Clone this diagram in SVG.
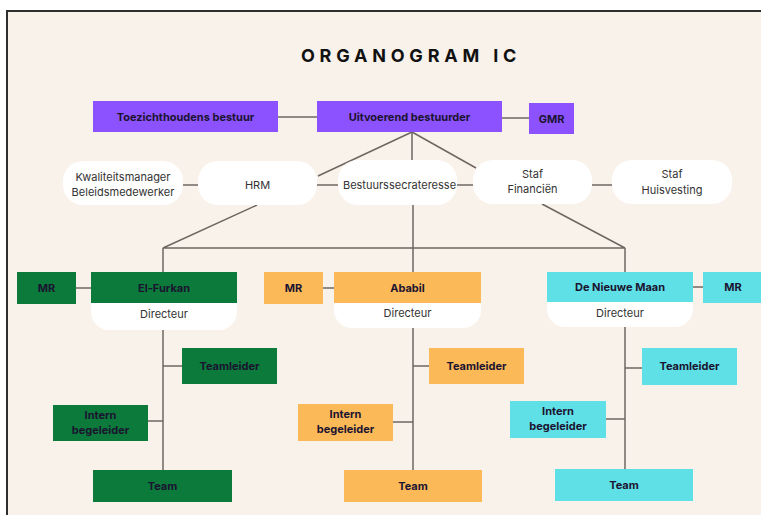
<svg xmlns="http://www.w3.org/2000/svg" width="761" height="515" viewBox="0 0 761 515">
<style>
.bg{fill:#f9f2ea}
.frame{fill:none;stroke:#2e2e2e;stroke-width:2}
.p{fill:#8c52ff}
.g{fill:#0b7a3a}
.o{fill:#fbb958}
.c{fill:#5fe0e6}
.w{fill:#ffffff}
.ln{stroke:#6e6660;stroke-width:1.5;fill:none}
.b{font-family:Inter,"Liberation Sans",sans-serif;font-weight:700;font-size:11px;fill:#1b1430;text-anchor:middle}
.r{font-family:Inter,"Liberation Sans",sans-serif;font-weight:400;font-size:11px;fill:#333333;text-anchor:middle}
.t{font-family:Inter,"Liberation Sans",sans-serif;font-weight:700;font-size:18px;fill:#111111;text-anchor:middle;letter-spacing:4.8px}
</style>
<rect width="761" height="515" fill="#ffffff"/>
<rect class="bg" x="7" y="11" width="790" height="520"/>
<rect class="frame" x="7" y="11" width="790" height="520"/>
<text class="t" x="411" y="62">ORGANOGRAM IC</text>

<g id="connectors">
<line class="ln" x1="278" y1="117" x2="317" y2="117"/>
<line class="ln" x1="502" y1="118" x2="529" y2="118"/>
<line class="ln" x1="412" y1="132" x2="318" y2="176"/>
<line class="ln" x1="412" y1="132" x2="412" y2="160"/>
<line class="ln" x1="412" y1="132" x2="476" y2="168"/>
<line class="ln" x1="183" y1="185" x2="198" y2="185"/>
<line class="ln" x1="317" y1="185" x2="338" y2="185"/>
<line class="ln" x1="457" y1="185" x2="473" y2="185"/>
<line class="ln" x1="592" y1="185" x2="612" y2="185"/>
<polyline class="ln" points="257,205 163,248 625,248 542,204"/>
<line class="ln" x1="163" y1="248" x2="163" y2="272"/>
<line class="ln" x1="413" y1="205" x2="413" y2="272"/>
<line class="ln" x1="625" y1="248" x2="625" y2="272"/>
<line class="ln" x1="76" y1="288" x2="91" y2="288"/>
<line class="ln" x1="323" y1="288" x2="334" y2="288"/>
<line class="ln" x1="693" y1="287" x2="703" y2="287"/>
<line class="ln" x1="163" y1="330" x2="163" y2="470"/>
<line class="ln" x1="163" y1="366" x2="182" y2="366"/>
<line class="ln" x1="148" y1="421" x2="163" y2="421"/>
<line class="ln" x1="413" y1="328" x2="413" y2="470"/>
<line class="ln" x1="413" y1="366" x2="429" y2="366"/>
<line class="ln" x1="393" y1="422" x2="413" y2="422"/>
<line class="ln" x1="625" y1="327" x2="625" y2="469"/>
<line class="ln" x1="625" y1="368" x2="642" y2="368"/>
<line class="ln" x1="606" y1="419" x2="625" y2="419"/>
</g>

<g id="toezicht"><rect class="p" x="93" y="101" width="185" height="31"/><text class="b" x="185.5" y="121">Toezichthoudens bestuur</text></g>
<g id="uitvoerend"><rect class="p" x="317" y="101" width="185" height="31"/><text class="b" x="409.5" y="121">Uitvoerend bestuurder</text></g>
<g id="gmr"><rect class="p" x="529" y="103" width="45" height="31"/><text class="b" x="551.5" y="123">GMR</text></g>

<g id="kwaliteit"><rect class="w" x="63" y="161" width="120" height="44" rx="20"/><text class="r" x="123" y="181">Kwaliteitsmanager</text><text class="r" x="123" y="196">Beleidsmedewerker</text></g>
<g id="hrm"><rect class="w" x="198" y="161" width="119" height="44" rx="20"/><text class="r" x="257.5" y="189">HRM</text></g>
<g id="secretaresse"><rect class="w" x="338" y="160" width="119" height="45" rx="20"/><text class="r" x="399.5" y="189">Bestuurssecrateresse</text></g>
<g id="financien"><rect class="w" x="473" y="160" width="119" height="44" rx="20"/><text class="r" x="532.5" y="178">Staf</text><text class="r" x="532.5" y="193">Financiën</text></g>
<g id="huisvesting"><rect class="w" x="612" y="160" width="120" height="44" rx="20"/><text class="r" x="672" y="178">Staf</text><text class="r" x="672" y="194">Huisvesting</text></g>

<g id="mr-furkan"><rect class="g" x="17" y="272" width="59" height="32"/><text class="b" x="46.5" y="292">MR</text></g>
<g id="elfurkan"><path class="w" d="M91,303 H237 V312 A18,18 0 0 1 219,330 H109 A18,18 0 0 1 91,312 Z"/><rect class="g" x="91" y="272" width="146" height="31"/><text class="b" x="164" y="292">El-Furkan</text><text class="r" x="164" y="318">Directeur</text></g>
<g id="mr-ababil"><rect class="o" x="264" y="272" width="59" height="32"/><text class="b" x="293.5" y="292">MR</text></g>
<g id="ababil"><path class="w" d="M334,303 H481 V310 A18,18 0 0 1 463,328 H352 A18,18 0 0 1 334,310 Z"/><rect class="o" x="334" y="272" width="147" height="31"/><text class="b" x="407.5" y="292">Ababil</text><text class="r" x="407.5" y="317">Directeur</text></g>
<g id="nieuwemaan"><path class="w" d="M547,302 H693 V309 A18,18 0 0 1 675,327 H565 A18,18 0 0 1 547,309 Z"/><rect class="c" x="547" y="272" width="146" height="30"/><text class="b" x="620" y="291">De Nieuwe Maan</text><text class="r" x="620" y="317">Directeur</text></g>
<g id="mr-maan"><rect class="c" x="703" y="272" width="60" height="31"/><text class="b" x="733" y="291">MR</text></g>

<g id="teamleider-g"><rect class="g" x="182" y="348" width="95" height="36"/><text class="b" x="229.5" y="370">Teamleider</text></g>
<g id="intern-g"><rect class="g" x="53" y="405" width="95" height="36"/><text class="b" x="100.5" y="419">Intern</text><text class="b" x="100.5" y="434">begeleider</text></g>
<g id="team-g"><rect class="g" x="93" y="470" width="139" height="32"/><text class="b" x="162.5" y="490">Team</text></g>

<g id="teamleider-o"><rect class="o" x="429" y="348" width="95" height="36"/><text class="b" x="476.5" y="370">Teamleider</text></g>
<g id="intern-o"><rect class="o" x="298" y="404" width="95" height="37"/><text class="b" x="345.5" y="418">Intern</text><text class="b" x="345.5" y="433">begeleider</text></g>
<g id="team-o"><rect class="o" x="344" y="470" width="138" height="32"/><text class="b" x="413" y="490">Team</text></g>

<g id="teamleider-c"><rect class="c" x="642" y="348" width="95" height="37"/><text class="b" x="689.5" y="370">Teamleider</text></g>
<g id="intern-c"><rect class="c" x="510" y="401" width="96" height="37"/><text class="b" x="558" y="415">Intern</text><text class="b" x="558" y="430">begeleider</text></g>
<g id="team-c"><rect class="c" x="555" y="469" width="138" height="32"/><text class="b" x="624" y="489">Team</text></g>
</svg>
